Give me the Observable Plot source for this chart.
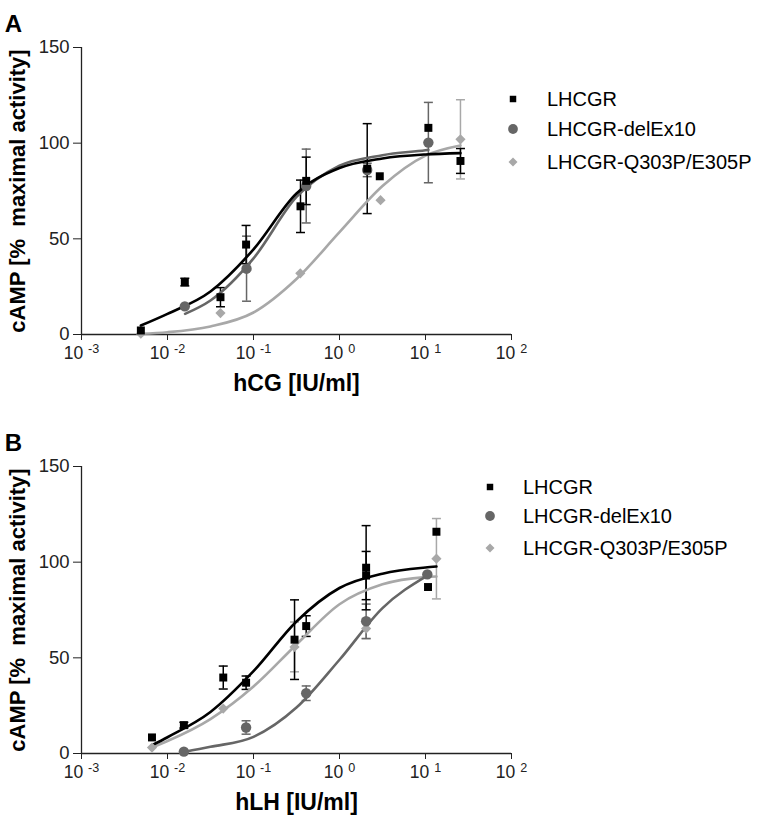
<!DOCTYPE html>
<html>
<head>
<meta charset="utf-8">
<script src="https://cdn.jsdelivr.net/npm/d3@7"></script>
<script src="https://cdn.jsdelivr.net/npm/@observablehq/plot@0.6"></script>
<style>
  body { margin: 0; background: #fff; font-family: "Liberation Sans", Arial, sans-serif; }
  #fig { position: relative; width: 784px; height: 828px; }
  .panel { position: absolute; left: 0; }
  .legend { position: absolute; font-size: 20px; color: #000; }
  .legend .row { position: absolute; white-space: nowrap; height: 24px; line-height: 24px; }
  .legend .lab { position: absolute; top: 0; }
</style>
</head>
<body>
<div id="fig"></div>
<script>
// ---------- data ----------
const seriesNames = ["LHCGR", "LHCGR-delEx10", "LHCGR-Q303P/E305P"];
const seriesColors = ["#000000", "#666666", "#a8a8a8"];
const seriesSymbols = ["square", "circle", "diamond2"];
const xTicks = [0.001, 0.01, 0.1, 1, 10, 100];
const yTicks = [0, 50, 100, 150];

// Panel A (hCG)
const A_LHCGR_x = [0.0049, 0.0159, 0.0413, 0.082, 0.352, 0.41, 2.1, 2.94, 10.8, 25.5];
const A_LHCGR_y = [2.1, 27.4, 19.5, 47, 67, 80.3, 86.7, 82.7, 108, 90.7];
const A_LHCGR_e = [0, 2, 5, 10, 13.7, 12.4, 23.5, 0, 0, 6.5];
const A_del_x = [0.0159, 0.083, 0.41, 2.1, 10.8];
const A_del_y = [14.7, 34.4, 77.6, 86, 100.3];
const A_del_e = [0, 17, 19.3, 3.5, 21];
const A_q_x = [0.0049, 0.0413, 0.35, 3.0, 25.5];
const A_q_y = [0.4, 11.2, 32, 70.2, 102];
const A_q_e = [0, 0, 0, 0, 20.7];
// fitted curves
const A_LHCGR_cx = [0.0049, 0.01, 0.0316, 0.1, 0.316, 1, 3.16, 10, 25.5];
const A_LHCGR_cy = [4.7, 10.8, 22.5, 44.5, 73.7, 87, 92, 94.1, 94.8];
const A_del_cx = [0.016, 0.0316, 0.1, 0.316, 1, 3.16, 10, 10.8];
const A_del_cy = [10.8, 17.8, 39.8, 71.9, 88.2, 93.7, 96.3, 96.5];
const A_q_cx = [0.0049, 0.01, 0.0316, 0.1, 0.316, 1, 3.16, 10, 25.5];
const A_q_cy = [0.4, 1.2, 4.2, 11.5, 29, 53.5, 77.6, 93.5, 98.8];

// Panel B (hLH)
const B_LHCGR_x = [0.0066, 0.0155, 0.0445, 0.082, 0.3, 0.41, 2.04, 2.04, 10.7, 13.4];
const B_LHCGR_y = [8.4, 14.8, 39.7, 37, 59.5, 66.6, 97.1, 93, 87, 115.9];
const B_LHCGR_e = [0, 1.5, 6, 3.5, 20.8, 5.4, 22, 12.6, 0, 0];
const B_del_x = [0.0155, 0.082, 0.41, 2.04, 10.5];
const B_del_y = [1.0, 13.6, 31.5, 69.1, 93.6];
const B_del_e = [0, 3.5, 3.8, 9, 0];
const B_q_x = [0.0066, 0.0445, 0.3, 2.04, 13.4];
const B_q_y = [3.1, 23.5, 55.7, 65.3, 101.8];
const B_q_e = [0, 0, 13, 5.3, 21];
const B_LHCGR_cx = [0.0066, 0.01, 0.0316, 0.1, 0.316, 1, 3.16, 10, 13.4];
const B_LHCGR_cy = [4.3, 8.5, 21.7, 43, 69, 86.5, 94, 97.2, 97.7];
const B_del_cx = [0.0155, 0.0316, 0.1, 0.316, 1, 3.16, 10.5];
const B_del_cy = [0.8, 3.5, 8.7, 24, 49, 76, 93];
const B_q_cx = [0.0066, 0.01, 0.0316, 0.1, 0.316, 1, 3.16, 10, 13.4];
const B_q_cy = [3.1, 6.5, 18, 35, 57, 78, 88.4, 92.2, 92.5];

// ---------- helpers ----------
const zip = (xs, ys, es) => xs.map((x, i) => ({x, y: ys[i], e: es ? es[i] : 0}));
const capSymbol = { draw(ctx) { ctx.moveTo(-4.5, 0); ctx.lineTo(4.5, 0); } };

function panel(opts) {
  const {series, xLabel, letter, height, marginTop, marginBottom} = opts;
  const marks = [];
  marks.push(Plot.ruleY([0], {stroke: "#222", strokeWidth: 1.3}));
  marks.push(Plot.ruleX([0.001], {stroke: "#222", strokeWidth: 1.3}));
  for (const k of [2, 1, 0]) {
    const s = series[k];
    const col = seriesColors[k];
    const err = s.pts.filter(d => d.e > 0);
    marks.push(Plot.ruleX(err, {x: "x", y1: d => d.y - d.e, y2: d => d.y + d.e, stroke: col, strokeWidth: 1.5}));
    marks.push(Plot.dot(err, {x: "x", y: d => d.y + d.e, symbol: capSymbol, stroke: col, strokeWidth: 1.5, r: 3}));
    marks.push(Plot.dot(err, {x: "x", y: d => d.y - d.e, symbol: capSymbol, stroke: col, strokeWidth: 1.5, r: 3}));
  }
  for (const k of [2, 1, 0]) {
    marks.push(Plot.line(series[k].curve, {x: "x", y: "y", stroke: seriesColors[k], strokeWidth: 2.6, curve: "monotone-x"}));
  }
  const rs = [4.5, 5.2, 4.6];
  for (const k of [2, 1, 0]) {
    marks.push(Plot.dot(series[k].pts, {x: "x", y: "y", symbol: seriesSymbols[k], fill: seriesColors[k], stroke: "none", r: rs[k]}));
  }
  marks.push(Plot.axisX({ticks: xTicks, tickSize: 6, tickPadding: 6, fontSize: 17.5, tickFormat: d => String(Math.round(Math.log10(d))), label: null}));
  marks.push(Plot.axisY({ticks: yTicks, tickSize: 8, tickPadding: 4, fontSize: 18.5, label: null}));
  marks.push(Plot.text([xLabel], {frameAnchor: "bottom", dy: 56, fontSize: 23, fontWeight: "bold", fill: "#000", textAnchor: "middle"}));
  marks.push(Plot.text(["cAMP [%  maximal activity]"], {frameAnchor: "left", dx: -64, rotate: -90, fontSize: 22, fontWeight: "bold", fill: "#000", textAnchor: "middle"}));
  marks.push(Plot.text([letter], {frameAnchor: "top-left", dx: -68, dy: -33, fontSize: 24, fontWeight: "bold", textAnchor: "middle", fill: "#000"}));
  const chart = Plot.plot({
    width: 784, height, marginLeft: 81, marginRight: 273, marginTop, marginBottom,
    style: {fontFamily: "'Liberation Sans', Arial, sans-serif", color: "#222", background: "transparent", overflow: "visible"},
    x: {type: "log", domain: [0.001, 100]},
    y: {domain: [0, 150]},
    marks
  });
  // superscript exponents on x tick labels
  chart.querySelectorAll('g[aria-label="x-axis tick label"] text').forEach(t => {
    const exp = t.textContent.replace("−", "-");
    t.textContent = "";
    const ns = "http://www.w3.org/2000/svg";
    const a = document.createElementNS(ns, "tspan"); a.textContent = "10 ";
    const b = document.createElementNS(ns, "tspan"); b.textContent = exp;
    b.setAttribute("dy", "-0.45em"); b.setAttribute("font-size", "0.72em");
    t.appendChild(a); t.appendChild(b);
  });
  return chart;
}

function legend(left, textLeft, rowYs) {
  const div = document.createElement("div");
  div.className = "legend";
  div.style.left = "0px"; div.style.top = "0px";
  const ns = "http://www.w3.org/2000/svg";
  seriesNames.forEach((name, k) => {
    const row = document.createElement("div");
    row.className = "row";
    row.style.left = "0px"; row.style.top = (rowYs[k] - 12) + "px";
    const svg = document.createElementNS(ns, "svg");
    svg.setAttribute("width", 16); svg.setAttribute("height", 16);
    svg.style.position = "absolute"; svg.style.left = (left - 8) + "px"; svg.style.top = "4px";
    const p = document.createElementNS(ns, "path");
    const sizes = [42, 75, 52];
    const sym = [d3.symbolSquare, d3.symbolCircle, d3.symbolDiamond2][k];
    p.setAttribute("d", d3.symbol(sym, sizes[k])());
    p.setAttribute("transform", "translate(8,8)");
    p.setAttribute("fill", seriesColors[k]);
    svg.appendChild(p);
    row.appendChild(svg);
    const lab = document.createElement("span");
    lab.className = "lab";
    lab.style.left = textLeft + "px";
    lab.textContent = name;
    row.appendChild(lab);
    div.appendChild(row);
  });
  return div;
}

const fig = document.getElementById("fig");

const seriesA = [
  {pts: zip(A_LHCGR_x, A_LHCGR_y, A_LHCGR_e), curve: zip(A_LHCGR_cx, A_LHCGR_cy)},
  {pts: zip(A_del_x, A_del_y, A_del_e), curve: zip(A_del_cx, A_del_cy)},
  {pts: zip(A_q_x, A_q_y, A_q_e), curve: zip(A_q_cx, A_q_cy)}
];
const seriesB = [
  {pts: zip(B_LHCGR_x, B_LHCGR_y, B_LHCGR_e), curve: zip(B_LHCGR_cx, B_LHCGR_cy)},
  {pts: zip(B_del_x, B_del_y, B_del_e), curve: zip(B_del_cx, B_del_cy)},
  {pts: zip(B_q_x, B_q_y, B_q_e), curve: zip(B_q_cx, B_q_cy)}
];

const pA = panel({series: seriesA, xLabel: "hCG [IU/ml]", letter: "A", height: 405, marginTop: 47, marginBottom: 71});
pA.classList.add("panel"); pA.style.top = "0px";
fig.appendChild(pA);

const pB = panel({series: seriesB, xLabel: "hLH [IU/ml]", letter: "B", height: 423, marginTop: 61, marginBottom: 75});
pB.classList.add("panel"); pB.style.top = "405px";
fig.appendChild(pB);

fig.appendChild(legend(513, 547, [99, 129, 162]));
fig.appendChild(legend(490, 523, [487, 516, 548]));
</script>
</body>
</html>
